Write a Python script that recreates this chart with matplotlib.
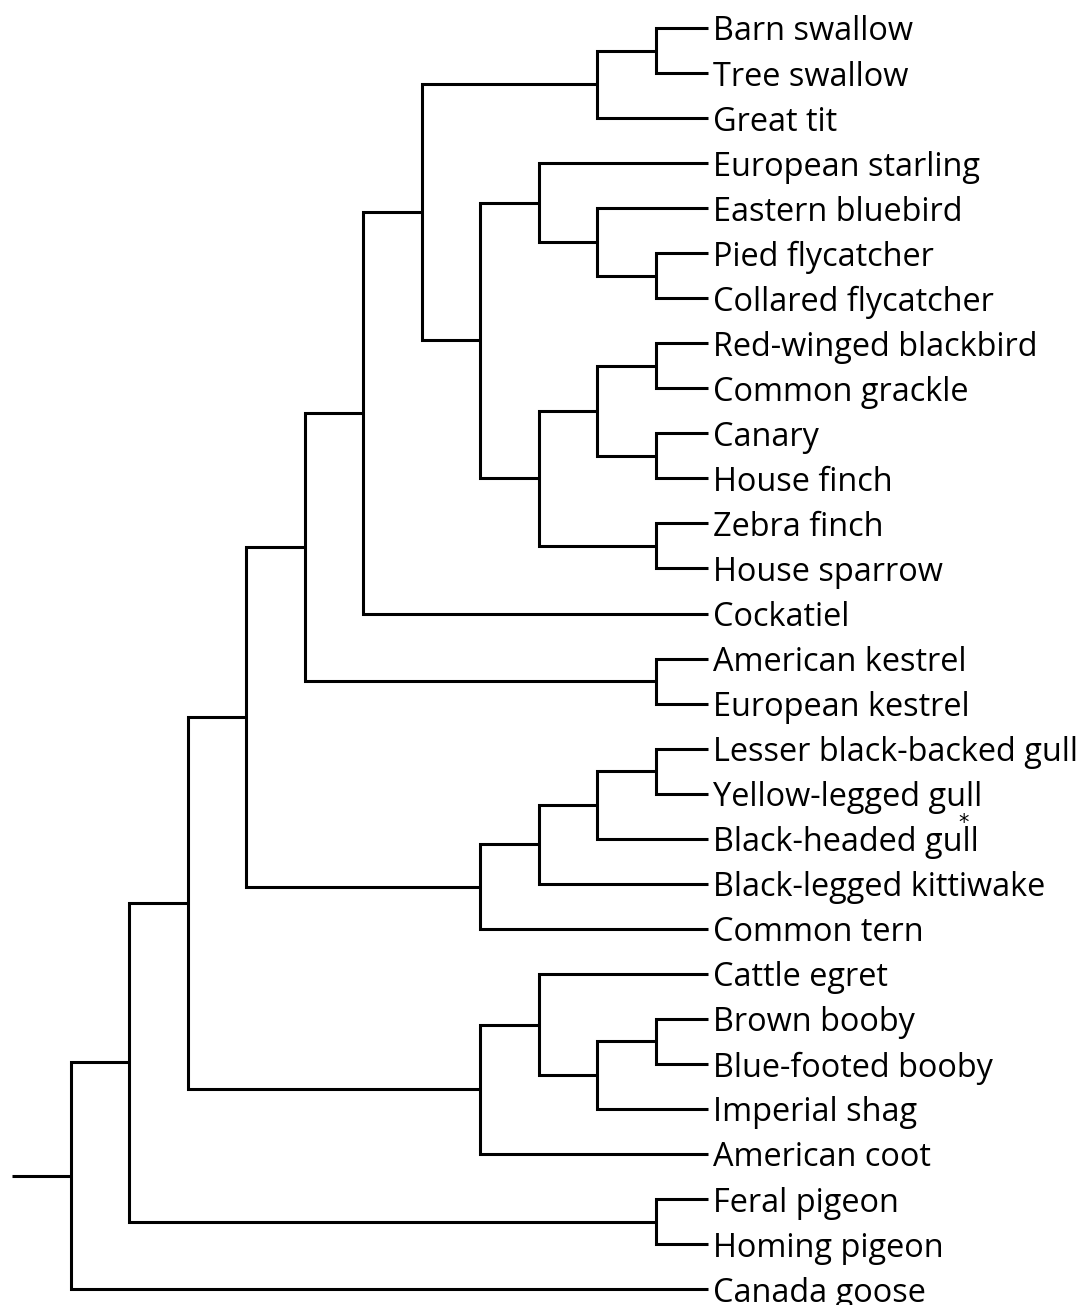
import matplotlib
matplotlib.use("Agg")
import matplotlib.pyplot as plt

# leaf names, top to bottom
LEAVES = [
    "Barn swallow", "Tree swallow", "Great tit", "European starling",
    "Eastern bluebird", "Pied flycatcher", "Collared flycatcher",
    "Red-winged blackbird", "Common grackle", "Canary", "House finch",
    "Zebra finch", "House sparrow", "Cockatiel", "American kestrel",
    "European kestrel", "Lesser black-backed gull", "Yellow-legged gull",
    "Black-headed gull", "Black-legged kittiwake", "Common tern",
    "Cattle egret", "Brown booby", "Blue-footed booby", "Imperial shag",
    "American coot", "Feral pigeon", "Homing pigeon", "Canada goose",
]

# topology as nested pairs of leaf indices
TREE = (((((((((0, 1), 2), ((3, (4, (5, 6))), (((7, 8), (9, 10)), (11, 12)))), 13),
             (14, 15)), ((((16, 17), 18), 19), 20)),
          ((21, ((22, 23), 24)), 25)), (26, 27)), 28)

MARKED = ["Black-headed gull"]   # leaves flagged with an asterisk

MAX_LEVEL = 12
LEAF_END = 11.9
LW = 2.2

fig = plt.figure(figsize=(10.86, 13.05), dpi=100)
ax = fig.add_axes([0, 0, 1, 1])


def height(node):
    if isinstance(node, int):
        return 0
    return max(height(c) for c in node) + 1


def draw(node):
    if isinstance(node, int):
        return LEAF_END, node
    x = MAX_LEVEL - height(node)
    kids = [draw(c) for c in node]
    (x0, y0), (x1, y1) = kids[0], kids[-1]
    ax.plot([x0, x, x, x1], [y0, y0, y1, y1], color="black", lw=LW,
            solid_joinstyle="miter", solid_capstyle="butt")
    return x, (y0 + y1) / 2


rx, ry = draw(TREE)
ax.plot([0, rx], [ry, ry], color="black", lw=LW, solid_capstyle="butt")

for i, name in enumerate(LEAVES):
    t = ax.annotate(name, xy=(LEAF_END, i), xytext=(5, 0), textcoords="offset pixels",
                    ha="left", va="center_baseline", fontsize=23.4, family="Open Sans",
                    color="black")
    if name in MARKED:
        ax.annotate("*", xy=(1, 1), xycoords=t, xytext=(-15, 3),
                    textcoords="offset pixels", ha="center", va="center",
                    fontsize=15, color="black")

ax.set_xlim(-12 / 58.5, (1086 - 12) / 58.5)
ax.set_ylim((1305 - 28) / 45.04, -28 / 45.04)
ax.axis("off")

fig.savefig("out.png", dpi=100)
